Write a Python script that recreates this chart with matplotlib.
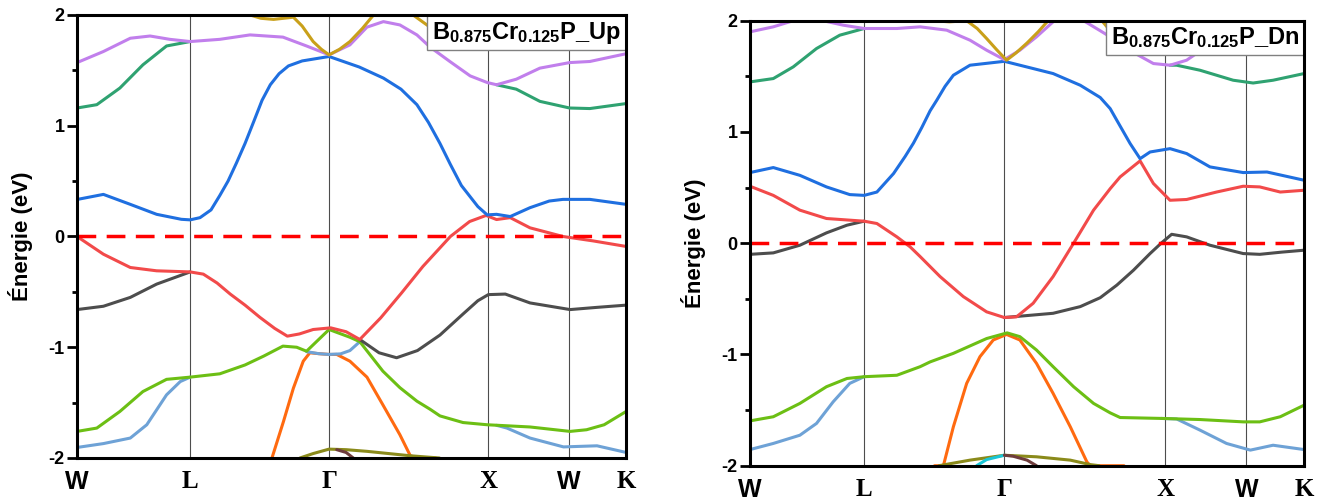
import numpy as np
import matplotlib
matplotlib.use('Agg')
import matplotlib.pyplot as plt
from matplotlib.offsetbox import AnchoredText

# High-symmetry points (fraction of the path length).
kLabels = ['W', 'L', 'Γ', 'X', 'W', 'K']
kPos = [0.0, 0.206, 0.459, 0.749, 0.896, 1.0]

# Band energies (k, E in eV). None breaks a line.
# ---- spin up ----
upRed = [(0.0, 0.0), (0.048, -0.16), (0.097, -0.28), (0.145, -0.31),
         (0.206, -0.32), (0.23, -0.34), (0.255, -0.42), (0.279, -0.52),
         (0.306, -0.62), (0.333, -0.73), (0.36, -0.83), (0.383, -0.90),
         (0.405, -0.88), (0.43, -0.84), (0.462, -0.825), (0.49, -0.86),
         (0.515, -0.93), (0.553, -0.735), (0.591, -0.51), (0.63, -0.27),
         (0.68, 0.0), (0.715, 0.135), (0.745, 0.19), (0.764, 0.153),
         (0.789, 0.17), (0.825, 0.078), (0.885, 0.0), (0.94, -0.04),
         (1.0, -0.09)]
upBlack = [(0.0, -0.66), (0.048, -0.63), (0.097, -0.55), (0.145, -0.43),
           (0.206, -0.32), None,
           (0.515, -0.93), (0.55, -1.05), (0.582, -1.095), (0.62, -1.03),
           (0.661, -0.89), (0.703, -0.70), (0.73, -0.58), (0.749, -0.525),
           (0.78, -0.52), (0.825, -0.6), (0.898, -0.66), (0.947, -0.64),
           (1.0, -0.62)]
upBlue = [(0.0, 0.334), (0.048, 0.38), (0.097, 0.29), (0.145, 0.2),
          (0.19, 0.155), (0.206, 0.15), (0.224, 0.17), (0.244, 0.24),
          (0.26, 0.37), (0.275, 0.50), (0.29, 0.66), (0.306, 0.84),
          (0.322, 1.04), (0.337, 1.23), (0.352, 1.37), (0.368, 1.47),
          (0.385, 1.54), (0.41, 1.585), (0.459, 1.625), (0.514, 1.53),
          (0.558, 1.43), (0.59, 1.33), (0.619, 1.19), (0.64, 1.03),
          (0.661, 0.84), (0.68, 0.65), (0.70, 0.46), (0.73, 0.27),
          (0.747, 0.195), (0.764, 0.2), (0.789, 0.18), (0.825, 0.26),
          (0.86, 0.32), (0.885, 0.335), (0.934, 0.335), (1.0, 0.29)]
upPurple = [(0.0, 1.57), (0.048, 1.67), (0.097, 1.79), (0.133, 1.81),
            (0.169, 1.78), (0.206, 1.76), (0.26, 1.78), (0.315, 1.82),
            (0.375, 1.80), (0.418, 1.72), (0.459, 1.64), (0.497, 1.73),
            (0.528, 1.89), (0.558, 1.94), (0.588, 1.91), (0.619, 1.82),
            (0.643, 1.71), (0.679, 1.58), (0.716, 1.45), (0.747, 1.39),
            (0.764, 1.37), (0.8, 1.42), (0.843, 1.52), (0.897, 1.57),
            (0.934, 1.58), (1.0, 1.65)]
upTeal = [(0.0, 1.16), (0.036, 1.19), (0.078, 1.34), (0.12, 1.55),
          (0.163, 1.72), (0.206, 1.76), None,
          (0.764, 1.37), (0.8, 1.33), (0.843, 1.22), (0.897, 1.16),
          (0.934, 1.155), (1.0, 1.2)]
upGold = [(0.315, 2.0), (0.335, 1.97), (0.358, 1.96), (0.394, 1.98),
          (0.41, 1.90), (0.43, 1.76), (0.445, 1.69), (0.459, 1.64),
          (0.478, 1.69), (0.497, 1.76), (0.52, 1.88), (0.54, 2.0), None,
          (0.612, 2.0), (0.64, 1.9), (0.661, 1.83), (0.69, 1.78)]
upGreen = [(0.0, -1.76), (0.036, -1.73), (0.078, -1.58), (0.12, -1.40),
           (0.163, -1.29), (0.206, -1.27), (0.26, -1.24), (0.306, -1.16),
           (0.34, -1.08), (0.375, -0.99), (0.40, -1.00), (0.418, -1.036),
           (0.437, -0.945), (0.459, -0.84), (0.497, -0.91), (0.515, -0.95),
           (0.557, -1.216), (0.588, -1.365), (0.619, -1.487),
           (0.643, -1.56), (0.661, -1.62), (0.703, -1.68), (0.747, -1.70),
           (0.825, -1.72), (0.898, -1.76), (0.928, -1.745), (0.96, -1.70),
           (1.0, -1.58)]
upLtBlue = [(0.0, -1.905), (0.048, -1.87), (0.097, -1.82), (0.127, -1.70),
            (0.163, -1.43), (0.188, -1.31), (0.206, -1.27), None,
            (0.418, -1.04), (0.44, -1.058), (0.459, -1.065), (0.48, -1.06),
            (0.497, -1.03), (0.515, -0.95), None,
            (0.764, -1.705), (0.783, -1.73), (0.825, -1.82), (0.886, -1.9),
            (0.947, -1.89), (1.0, -1.95)]
upOrange = [(0.355, -2.0), (0.376, -1.67), (0.394, -1.37), (0.412, -1.126),
            (0.424, -1.05), (0.44, -1.058), (0.459, -1.065),
            (0.473, -1.065), (0.497, -1.126), (0.528, -1.27),
            (0.557, -1.52), (0.588, -1.79), (0.607, -1.98), (0.62, -2.0),
            (0.653, -2.0)]
upOlive = [(0.406, -2.0), (0.43, -1.96), (0.459, -1.92), (0.49, -1.925),
           (0.528, -1.94), (0.607, -1.98), (0.66, -2.0)]
upBrown = [(0.473, -1.925), (0.49, -1.95), (0.503, -2.0)]

# ---- spin down ----
dnRed = [(0.0, 0.512), (0.042, 0.43), (0.09, 0.297), (0.138, 0.222),
         (0.206, 0.198), (0.229, 0.177), (0.265, 0.057), (0.289, -0.033),
         (0.307, -0.12), (0.325, -0.21), (0.343, -0.30), (0.385, -0.48),
         (0.427, -0.617), (0.459, -0.668), (0.481, -0.662), (0.511, -0.54),
         (0.547, -0.30), (0.584, 0.0), (0.62, 0.297), (0.65, 0.49),
         (0.668, 0.596), (0.704, 0.74), (0.728, 0.537), (0.758, 0.386),
         (0.788, 0.393), (0.842, 0.46), (0.89, 0.512), (0.92, 0.506),
         (0.957, 0.46), (1.0, 0.476)]
dnBlack = [(0.0, -0.10), (0.042, -0.087), (0.09, -0.018), (0.138, 0.093),
           (0.175, 0.162), (0.206, 0.198), None,
           (0.459, -0.668), (0.487, -0.656), (0.547, -0.63), (0.596, -0.57),
           (0.632, -0.49), (0.662, -0.377), (0.692, -0.243), (0.722, -0.093),
           (0.742, 0.0), (0.761, 0.08), (0.788, 0.057), (0.83, -0.018),
           (0.89, -0.093), (0.92, -0.10), (0.96, -0.08), (1.0, -0.063)]
dnBlue = [(0.0, 0.635), (0.042, 0.68), (0.09, 0.61), (0.138, 0.506),
          (0.18, 0.437), (0.206, 0.43), (0.229, 0.46), (0.259, 0.626),
          (0.28, 0.78), (0.295, 0.90), (0.31, 1.04), (0.325, 1.19),
          (0.337, 1.285), (0.352, 1.41), (0.367, 1.51), (0.397, 1.60),
          (0.459, 1.635), (0.487, 1.60), (0.547, 1.525), (0.596, 1.42),
          (0.632, 1.31), (0.65, 1.21), (0.662, 1.105), (0.686, 0.896),
          (0.704, 0.76), (0.722, 0.82), (0.758, 0.85), (0.788, 0.806),
          (0.83, 0.686), (0.89, 0.635), (0.933, 0.64), (1.0, 0.566)]
dnPurple = [(0.0, 1.90), (0.042, 1.945), (0.078, 2.0), (0.132, 2.0),
            (0.168, 1.96), (0.206, 1.93), (0.265, 1.93), (0.307, 1.945),
            (0.355, 1.915), (0.397, 1.825), (0.427, 1.735), (0.459, 1.65),
            (0.487, 1.735), (0.517, 1.855), (0.547, 1.99), (0.56, 2.05),
            None, (0.59, 2.05), (0.602, 2.0), (0.632, 1.91), (0.65, 1.855),
            (0.69, 1.72), (0.728, 1.615), (0.758, 1.60), (0.788, 1.645),
            (0.81, 1.72)]
dnTeal = [(0.0, 1.45), (0.042, 1.48), (0.078, 1.585), (0.12, 1.75),
          (0.162, 1.87), (0.206, 1.93), None,
          (0.758, 1.60), (0.77, 1.60), (0.812, 1.555), (0.872, 1.465),
          (0.908, 1.44), (0.944, 1.465), (1.0, 1.525)]
dnGold = [(0.33, 2.0), (0.36, 1.99), (0.391, 2.0), (0.41, 1.93),
          (0.427, 1.84), (0.445, 1.74), (0.463, 1.645), (0.48, 1.71),
          (0.5, 1.80), (0.52, 1.90), (0.538, 2.0), None,
          (0.635, 2.0), (0.65, 1.91), (0.67, 1.85)]
dnGreen = [(0.0, -1.597), (0.042, -1.56), (0.09, -1.44), (0.138, -1.29),
           (0.175, -1.216), (0.206, -1.20), (0.265, -1.187), (0.307, -1.11),
           (0.325, -1.067), (0.367, -0.99), (0.427, -0.857), (0.464, -0.806),
           (0.487, -0.84), (0.517, -0.96), (0.547, -1.11), (0.584, -1.29),
           (0.62, -1.44), (0.65, -1.525), (0.668, -1.567), (0.742, -1.575),
           (0.812, -1.585), (0.89, -1.606), (0.92, -1.606), (0.957, -1.56),
           (1.0, -1.456)]
dnLtBlue = [(0.0, -1.855), (0.042, -1.80), (0.09, -1.726), (0.12, -1.62),
            (0.15, -1.426), (0.18, -1.26), (0.206, -1.20), None,
            (0.742, -1.575), (0.77, -1.58), (0.812, -1.68), (0.86, -1.80),
            (0.903, -1.86), (0.944, -1.816), (1.0, -1.855)]
dnOrange = [(0.333, -2.0), (0.349, -2.0), (0.367, -1.65), (0.391, -1.26),
            (0.415, -1.02), (0.439, -0.87), (0.463, -0.82), (0.487, -0.87),
            (0.517, -1.08), (0.547, -1.35), (0.578, -1.65), (0.608, -1.966),
            (0.614, -2.0), (0.675, -2.0)]
dnOlive = [(0.341, -2.0), (0.397, -1.95), (0.459, -1.906), (0.517, -1.92),
           (0.578, -1.95), (0.614, -1.99), (0.63, -2.0)]
dnCyan = [(0.409, -2.0), (0.427, -1.945), (0.459, -1.906)]
dnBrown = [(0.459, -1.906), (0.475, -1.915), (0.5, -1.95), (0.517, -2.0)]

# Colors for each band.
colors = {'red': '#f24a4a', 'black': '#4d4d4d', 'blue': '#1f6fe0',
          'green': '#6cbf14', 'ltblue': '#6ea2d6', 'orange': '#ff6a10',
          'purple': '#c17fec', 'teal': '#2fa271', 'gold': '#c9a01a',
          'olive': '#8a8a1a', 'brown': '#6e3c3c', 'cyan': '#19c6d6'}

upBands = [('orange', upOrange), ('olive', upOlive), ('brown', upBrown),
           ('ltblue', upLtBlue), ('green', upGreen), ('black', upBlack),
           ('red', upRed), ('blue', upBlue), ('teal', upTeal),
           ('purple', upPurple), ('gold', upGold)]
dnBands = [('orange', dnOrange), ('olive', dnOlive), ('cyan', dnCyan),
           ('brown', dnBrown), ('ltblue', dnLtBlue), ('green', dnGreen),
           ('black', dnBlack), ('red', dnRed), ('blue', dnBlue),
           ('teal', dnTeal), ('purple', dnPurple), ('gold', dnGold)]

plt.rcParams.update({'font.family': 'Liberation Sans',
                     'font.weight': 'bold',
                     'mathtext.fontset': 'custom',
                     'mathtext.rm': 'Liberation Sans:bold',
                     'mathtext.bf': 'Liberation Sans:bold',
                     'mathtext.it': 'Liberation Sans:bold'})


def toArray(band):
    return np.array([(np.nan, np.nan) if p is None else p for p in band],
                    dtype=float)


def plotPanel(ax, bands, title):
    # Vertical lines at the high-symmetry points.
    for x in kPos[1:-1]:
        ax.axvline(x, color='0.3', lw=0.8, zorder=1)
    for name, band in bands:
        arr = toArray(band)
        ax.plot(arr[:, 0], arr[:, 1], color=colors[name], lw=2.2,
                solid_joinstyle='round', solid_capstyle='round', zorder=2)
    # Fermi level.
    ax.axhline(0, color='#ff0000', lw=2.5, dashes=(5.4, 3.0), zorder=3)

    ax.set_xlim(0, 1)
    ax.set_ylim(-2, 2)
    ax.set_yticks([-2, -1, 0, 1, 2])
    ax.set_yticklabels(['-2', '-1', '0', '1', '2'])
    ax.set_yticks([-1.5, -0.5, 0.5, 1.5], minor=True)
    ax.tick_params(axis='y', which='major', direction='out', length=7,
                   width=2, labelsize=13, pad=2)
    ax.tick_params(axis='y', which='minor', direction='out', length=3.5,
                   width=2)
    ax.set_xticks(kPos)
    ax.set_xticklabels(kLabels)
    ax.tick_params(axis='x', length=0, pad=9)
    for i, lab in enumerate(ax.get_xticklabels()):
        if kLabels[i] == 'W':
            lab.set_fontfamily('Liberation Sans')
        else:
            lab.set_fontfamily('Liberation Serif')
        lab.set_fontsize(18)
        lab.set_fontweight('bold')
    for sp in ax.spines.values():
        sp.set_linewidth(2.2)
        sp.set_zorder(5)
    ax.set_ylabel('Énergie (eV)', fontsize=16, fontweight='bold',
                  labelpad=11)

    at = AnchoredText(title, loc='upper right', pad=0.2, borderpad=0.0,
                      prop=dict(fontsize=17), frameon=True)
    at.patch.set_edgecolor('0.5')
    at.patch.set_linewidth(1.0)
    at.zorder = 4
    ax.add_artist(at)


fig = plt.figure(figsize=(13.17, 5.04), dpi=100)
axUp = fig.add_axes([0.0585, 0.0913, 0.4169, 0.8790])
axDn = fig.add_axes([0.5695, 0.0760, 0.4207, 0.8829])

plotPanel(axUp, upBands, r'$\mathbf{B_{0.875}Cr_{0.125}P\_Up}$')
plotPanel(axDn, dnBands, r'$\mathbf{B_{0.875}Cr_{0.125}P\_Dn}$')

fig.savefig('out.png', dpi=100)
